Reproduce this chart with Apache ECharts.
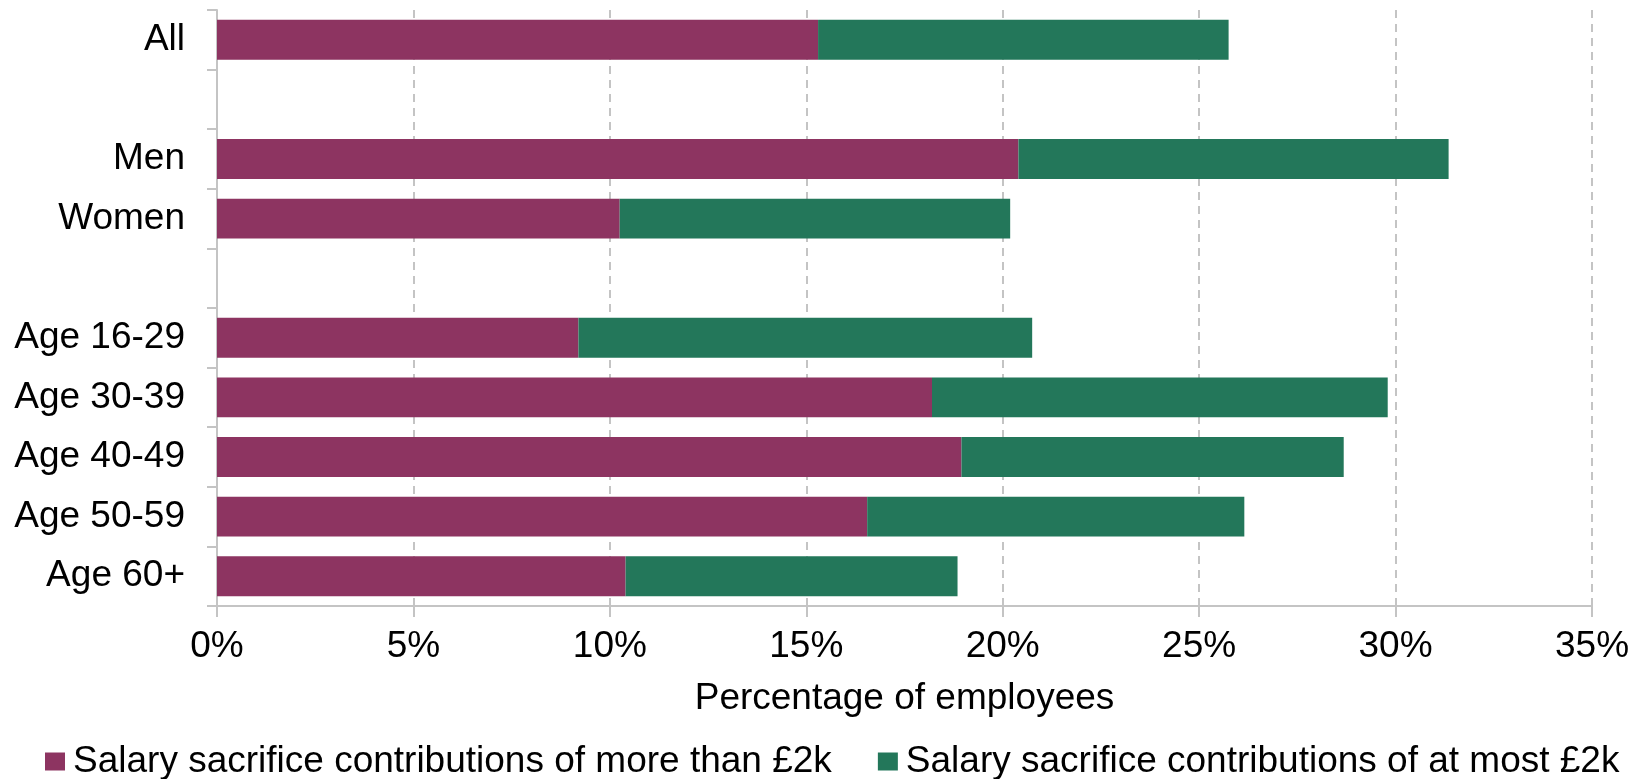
<!DOCTYPE html>
<html>
<head>
<meta charset="utf-8">
<script src="https://cdn.jsdelivr.net/npm/echarts@6/dist/echarts.min.js"></script>
<style>
  html, body { margin: 0; padding: 0; background: #ffffff; }
  #chart { width: 1644px; height: 779px; }
</style>
</head>
<body>
<div id="chart"></div>
<script>
// Row labels (blank rows separate the groups)
const categories = ['All', ' ', 'Men', 'Women', '  ', 'Age 16-29', 'Age 30-39', 'Age 40-49', 'Age 50-59', 'Age 60+'];

// Share of employees (%) by size of salary sacrifice contribution
const moreThan2k = [15.3, null, 20.4, 10.25, null, 9.2, 18.2, 18.95, 16.55, 10.4];
const atMost2k   = [10.45, null, 10.95, 9.94, null, 11.55, 11.6, 9.73, 9.6, 8.45];

const seriesNames = [
  'Salary sacrifice contributions of more than £2k',
  'Salary sacrifice contributions of at most £2k'
];

const xTicks = { min: 0, max: 35, interval: 5 };
const xAxisTitle = 'Percentage of employees';

const FONT = '"Liberation Sans", Arial, sans-serif';
const GREY = '#c4c4c4';

const chart = echarts.init(document.getElementById('chart'), null, { renderer: 'canvas' });

chart.setOption({
  animation: false,
  backgroundColor: '#ffffff',
  grid: { left: 217, right: 52, top: 10, bottom: 173, containLabel: false },
  legend: {
    left: 40,
    top: 738,
    itemWidth: 20,
    itemHeight: 18,
    itemGap: 46,
    icon: 'rect',
    textStyle: { fontFamily: FONT, fontSize: 37, color: '#000000', padding: [0, 0, 0, 3] },
    data: seriesNames
  },
  xAxis: {
    type: 'value',
    min: xTicks.min,
    max: xTicks.max,
    interval: xTicks.interval,
    name: xAxisTitle,
    nameLocation: 'middle',
    nameGap: 74,
    nameTextStyle: { fontFamily: FONT, fontSize: 37, color: '#000000' },
    axisLine: { show: true, lineStyle: { color: GREY, width: 2 } },
    axisTick: { show: true, length: 11, lineStyle: { color: GREY, width: 2 } },
    axisLabel: {
      fontFamily: FONT, fontSize: 37, color: '#000000', margin: 22,
      formatter: v => v + '%'
    },
    splitLine: { show: true, lineStyle: { color: GREY, width: 2, type: [8, 6] } }
  },
  yAxis: {
    type: 'category',
    inverse: true,
    data: categories,
    axisLine: { show: true, lineStyle: { color: GREY, width: 2 } },
    axisTick: { show: true, length: 10, lineStyle: { color: GREY, width: 2 } },
    axisLabel: { fontFamily: FONT, fontSize: 37, color: '#000000', margin: 32 },
    splitLine: { show: false }
  },
  series: [
    {
      name: seriesNames[0],
      type: 'bar',
      stack: 'total',
      barCategoryGap: '33%',
      itemStyle: { color: '#8d3461' },
      data: moreThan2k
    },
    {
      name: seriesNames[1],
      type: 'bar',
      stack: 'total',
      barCategoryGap: '33%',
      itemStyle: { color: '#23775a' },
      data: atMost2k
    }
  ]
});
</script>
</body>
</html>
